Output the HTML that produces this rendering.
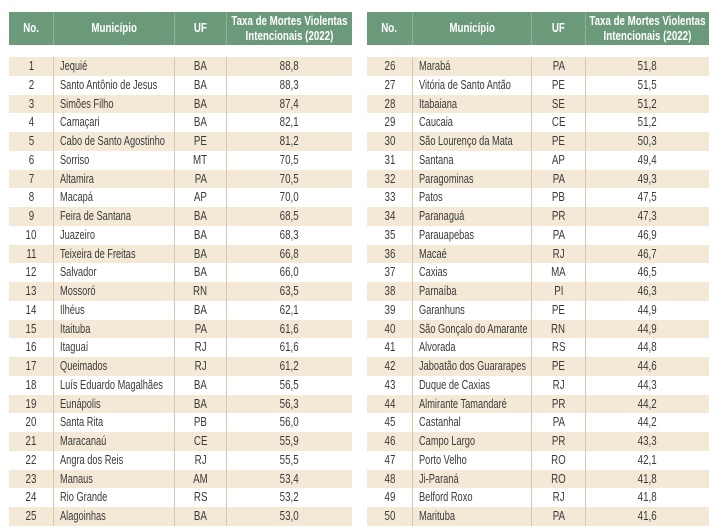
<!DOCTYPE html>
<html><head><meta charset="utf-8"><style>
body{margin:0;width:723px;height:528px;background:#fff;overflow:hidden;font-family:"Liberation Sans",sans-serif;position:relative}
.t{position:absolute;top:12px}
.h{display:flex;height:33px;background:#6b9a7b;color:#fff;font-weight:bold;font-size:12.5px;line-height:15px}
.h div{display:flex;align-items:center;justify-content:center;text-align:center;border-right:1px solid #8fb39a;box-sizing:border-box;overflow:visible}
.h div:last-child{border-right:none}
.h s{white-space:nowrap;flex:none}
.rows{margin-top:12px}
.r{display:flex;height:18.75px;font-size:12.5px;color:#3a3a3a;line-height:18.75px}
.r.b{background:#f4e9d6}
.r div{border-right:1px solid #d8c9ad;box-sizing:border-box;white-space:nowrap;overflow:hidden;text-align:center}
.r div:last-child{border-right:none}
.r div.l{text-align:left;padding-left:6px}
s{text-decoration:none;display:inline-block;transform:scaleX(.78);transform-origin:center}
.l s{transform-origin:left;transform:scaleX(.74)}
</style></head><body>
<div class="t" id="A" style="left:9px;width:343px"></div>
<div class="t" id="B" style="left:367px;width:342px"></div>
<script>
const d=[["Jequié","BA","88,8"],["Santo Antônio de Jesus","BA","88,3"],["Simões Filho","BA","87,4"],["Camaçari","BA","82,1"],["Cabo de Santo Agostinho","PE","81,2"],["Sorriso","MT","70,5"],["Altamira","PA","70,5"],["Macapá","AP","70,0"],["Feira de Santana","BA","68,5"],["Juazeiro","BA","68,3"],["Teixeira de Freitas","BA","66,8"],["Salvador","BA","66,0"],["Mossoró","RN","63,5"],["Ilhéus","BA","62,1"],["Itaituba","PA","61,6"],["Itaguaí","RJ","61,6"],["Queimados","RJ","61,2"],["Luís Eduardo Magalhães","BA","56,5"],["Eunápolis","BA","56,3"],["Santa Rita","PB","56,0"],["Maracanaú","CE","55,9"],["Angra dos Reis","RJ","55,5"],["Manaus","AM","53,4"],["Rio Grande","RS","53,2"],["Alagoinhas","BA","53,0"],
["Marabá","PA","51,8"],["Vitória de Santo Antão","PE","51,5"],["Itabaiana","SE","51,2"],["Caucaia","CE","51,2"],["São Lourenço da Mata","PE","50,3"],["Santana","AP","49,4"],["Paragominas","PA","49,3"],["Patos","PB","47,5"],["Paranaguá","PR","47,3"],["Parauapebas","PA","46,9"],["Macaé","RJ","46,7"],["Caxias","MA","46,5"],["Parnaíba","PI","46,3"],["Garanhuns","PE","44,9"],["São Gonçalo do Amarante","RN","44,9"],["Alvorada","RS","44,8"],["Jaboatão dos Guararapes","PE","44,6"],["Duque de Caxias","RJ","44,3"],["Almirante Tamandaré","PR","44,2"],["Castanhal","PA","44,2"],["Campo Largo","PR","43,3"],["Porto Velho","RO","42,1"],["Ji-Paraná","RO","41,8"],["Belford Roxo","RJ","41,8"],["Marituba","PA","41,6"]];
function build(id,w,off){let h='<div class="h">';const hd=['No.','Município','UF','Taxa de Mortes Violentas<br>Intencionais (2022)'];
hd.forEach((t,i)=>h+=`<div style="width:${w[i]}px"><s>${t}</s></div>`);h+='</div><div class="rows">';
for(let i=0;i<25;i++){const r=d[off+i];h+=`<div class="r${i%2==0?' b':''}"><div style="width:${w[0]}px"><s>${off+i+1}</s></div><div class="l" style="width:${w[1]}px"><s>${r[0]}</s></div><div style="width:${w[2]}px"><s>${r[1]}</s></div><div style="width:${w[3]}px"><s>${r[2]}</s></div></div>`;}
document.getElementById(id).innerHTML=h+'</div>';}
build('A',[45,121,52,125],0);build('B',[46,119,54,123],25);
</script>
</body></html>
